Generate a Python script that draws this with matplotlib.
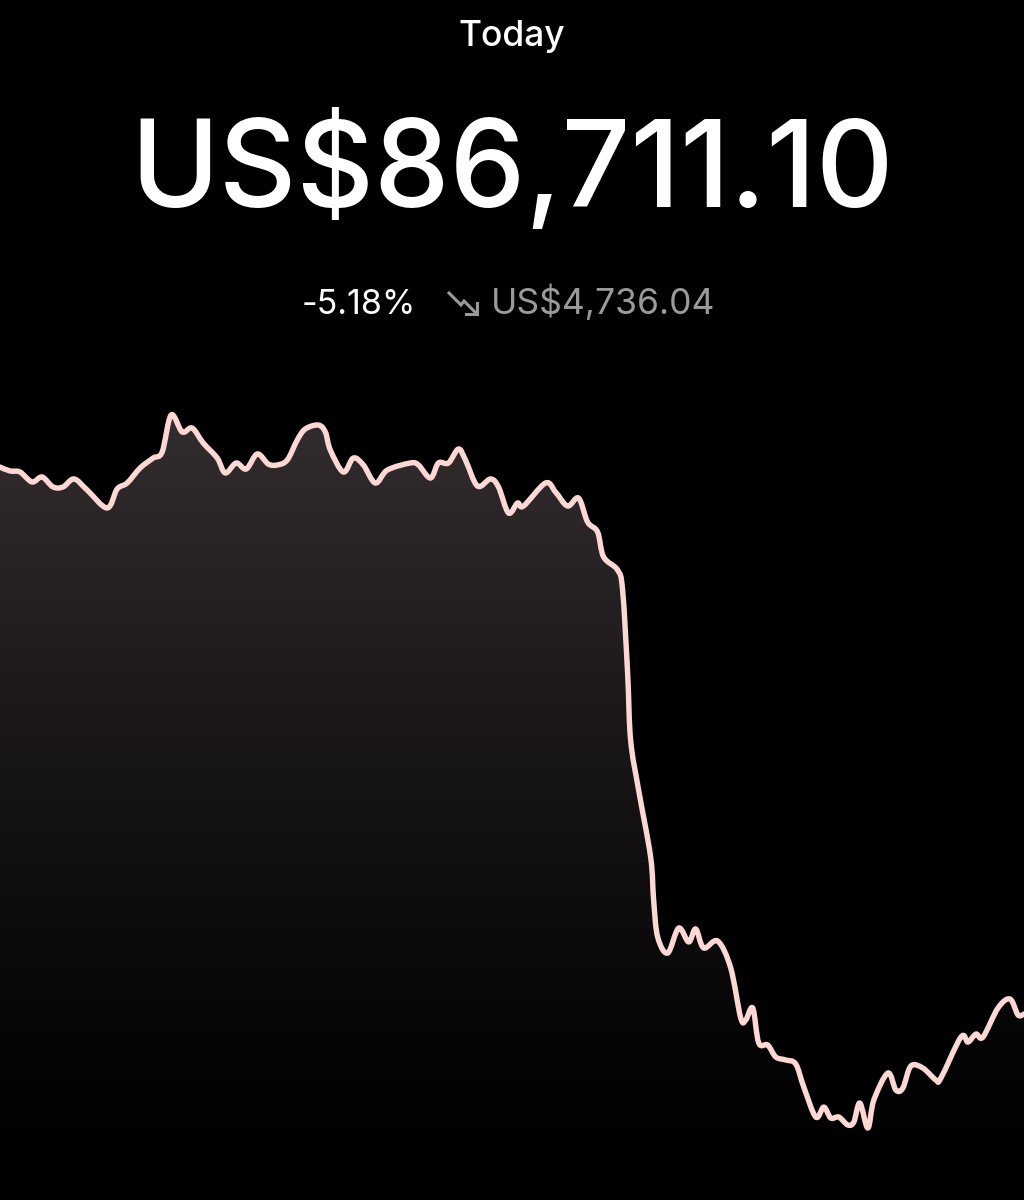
import numpy as np
import matplotlib.pyplot as plt
from matplotlib.lines import Line2D
from matplotlib.path import Path
from matplotlib.patches import PathPatch

# time steps across the day (left -> right) and price in USD
t = [0, 10, 20, 32, 42, 53, 63, 74, 87, 107, 117, 127, 140, 153, 162, 171,
     182, 192, 203, 217, 225, 236, 246, 257, 268, 277, 287, 297, 305, 318,
     325, 330, 343, 353, 363, 375, 387, 410, 418, 430, 438, 448, 458, 465,
     477, 490, 498, 508, 517, 523, 545, 555, 567, 578, 587, 597, 603, 617,
     622, 627, 630, 638, 650, 653, 657, 667, 678, 688, 695, 703, 717, 730,
     740, 745, 752, 758, 767, 775, 785, 795, 803, 815, 823, 830, 838, 847,
     853, 859, 867, 873, 887, 895, 902, 910, 922, 935, 940, 960, 967, 975,
     982, 997, 1009, 1017, 1023]
price = [91438, 91404, 91395, 91309, 91352, 91266, 91266, 91335, 91240, 91084,
         91248, 91300, 91430, 91516, 91568, 91888, 91741, 91775, 91646, 91516,
         91387, 91473, 91421, 91551, 91464, 91456, 91499, 91672, 91767, 91801,
         91741, 91585, 91395, 91516, 91456, 91300, 91412, 91473, 91456, 91343,
         91473, 91473, 91594, 91499, 91274, 91335, 91266, 91041, 91127, 91101,
         91300, 91222, 91101, 91170, 90963, 90877, 90661, 90548, 90375, 89658,
         89079, 88647, 88068, 87696, 87377, 87238, 87454, 87334, 87446, 87282,
         87342, 87109, 86677, 86659, 86763, 86461, 86443, 86340, 86314, 86279,
         86080, 85821, 85907, 85812, 85821, 85752, 85778, 85942, 85726, 85968,
         86201, 86054, 86072, 86262, 86244, 86141, 86158, 86512, 86469, 86538,
         86512, 86763, 86841, 86703, 86711]

title = "Today"
current_value = "US$86,711.10"
pct_change = "-5.18%"
abs_change = "US$4,736.04"

FONT = ["Inter", "DejaVu Sans"]
W, H = 1024, 1200
Y_TOP, Y_BOTTOM = 95474, 85104


def smooth_path(xs, ys, close_to=None):
    # catmull-rom through the points, written as cubic bezier segments
    p = np.column_stack([xs, ys]).astype(float)
    verts = [p[0]]
    codes = [Path.MOVETO]
    n = len(p)
    for i in range(n - 1):
        p0 = p[max(i - 1, 0)]
        p1, p2 = p[i], p[i + 1]
        p3 = p[min(i + 2, n - 1)]
        verts += [p1 + (p2 - p0) / 6, p2 - (p3 - p1) / 6, p2]
        codes += [Path.CURVE4] * 3
    if close_to is not None:
        verts += [[xs[-1], close_to], [xs[0], close_to], p[0]]
        codes += [Path.LINETO, Path.LINETO, Path.CLOSEPOLY]
    return Path(verts, codes)


fig = plt.figure(figsize=(W / 100, H / 100), dpi=100, facecolor="black")
ax = fig.add_axes([0, 0, 1, 1])
ax.set_facecolor("black")
ax.set_xlim(0, 1023)
ax.set_ylim(Y_BOTTOM, Y_TOP)
ax.axis("off")

# gradient fill under the line
rows = np.linspace(0, H, 600)
f = np.clip((H - rows) / (H - 415), 0, 1) ** 1.3
top = np.array([52, 45, 47]) / 255.0
grad = f[:, None, None] * top[None, None, :]
img = ax.imshow(grad, extent=[0, 1023, Y_BOTTOM, Y_TOP], aspect="auto",
                origin="upper", zorder=1, interpolation="bilinear")
area = smooth_path(t, price, close_to=Y_BOTTOM)
img.set_clip_path(area, transform=ax.transData)

line = PathPatch(smooth_path(t, price), facecolor="none", edgecolor="#fcd8d4",
                 lw=3.9, joinstyle="round", capstyle="round", zorder=3)
ax.add_patch(line)


def fy(y):
    return 1 - y / H


fig.text(512 / W, fy(46), title, color="white", fontsize=25.5,
         ha="center", va="baseline", family=FONT, fontweight="medium")
fig.text(512 / W, fy(207), current_value, color="white", fontsize=86.5,
         ha="center", va="baseline", family=FONT, fontweight="medium")
fig.text(416 / W, fy(314), pct_change, color="white", fontsize=24.5,
         ha="right", va="baseline", family=FONT)
fig.text(491 / W, fy(314), abs_change, color="#9a9a9a", fontsize=25.5,
         ha="left", va="baseline", family=FONT)

# small trend-down icon
ix = np.array([449, 461, 464, 477]) / W
iy = fy(np.array([293, 305, 301, 314]))
fig.add_artist(Line2D(ix, iy, color="#9a9a9a", lw=2.2,
                      solid_joinstyle="miter", transform=fig.transFigure))
hx = np.array([466, 477, 477]) / W
hy = fy(np.array([314, 314, 303]))
fig.add_artist(Line2D(hx, hy, color="#9a9a9a", lw=2.2,
                      solid_joinstyle="miter", transform=fig.transFigure))

fig.savefig("out.png", dpi=100, facecolor="black")
